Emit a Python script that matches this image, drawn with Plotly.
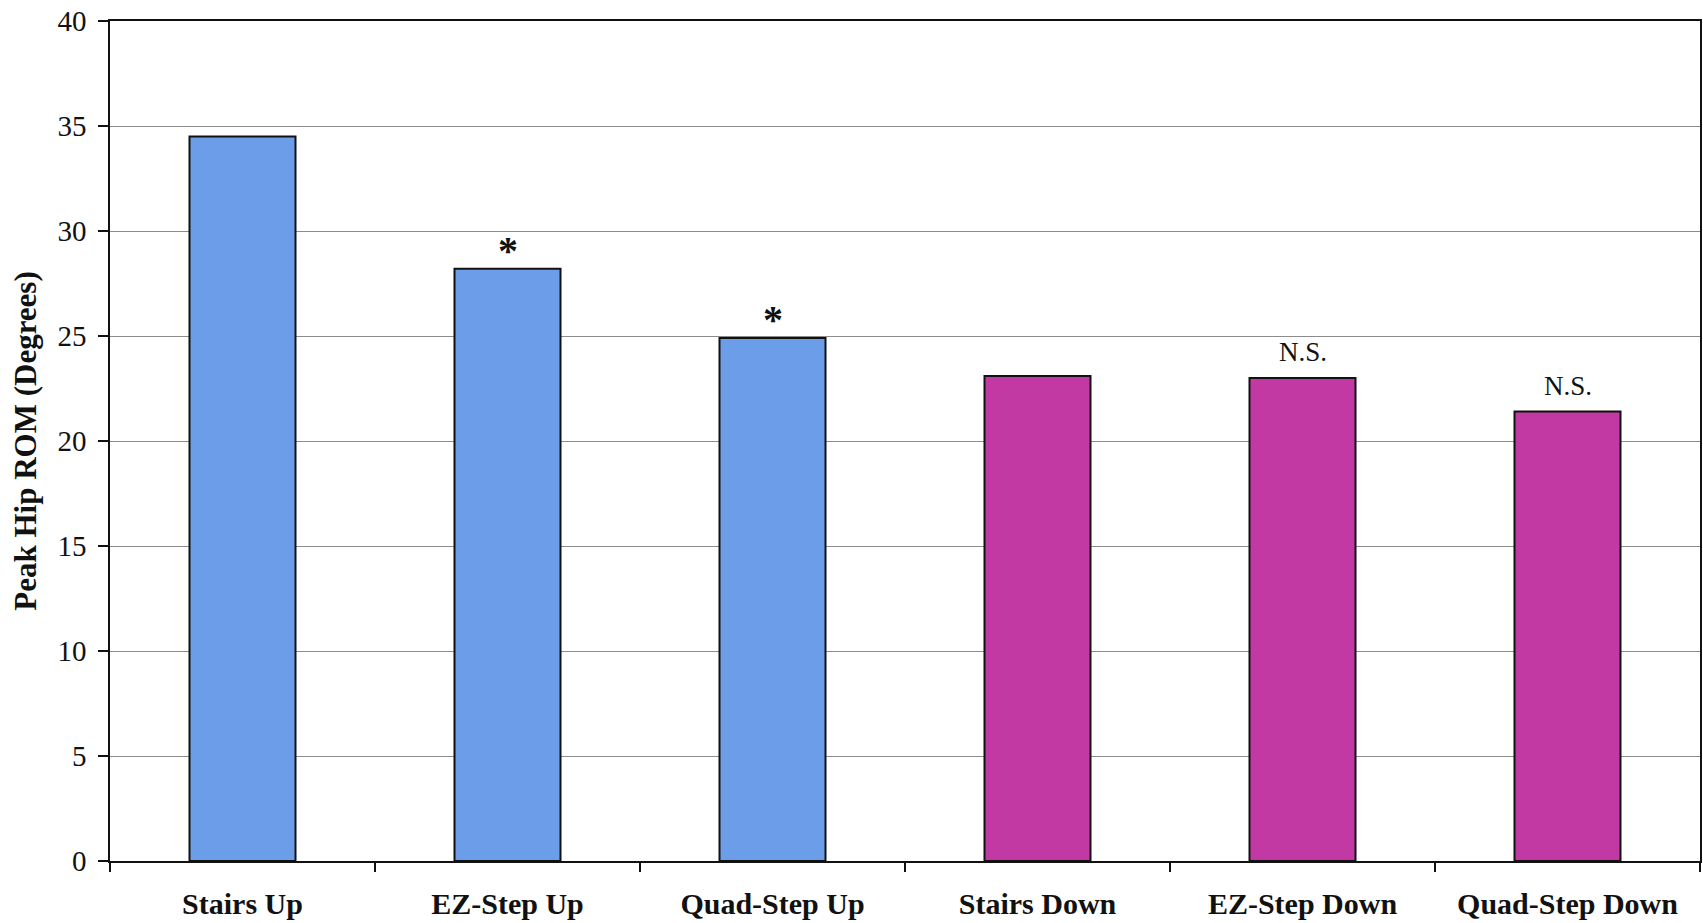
import plotly.graph_objects as go

# Peak hip range of motion for each task
tasks = ["Stairs Up", "EZ-Step Up", "Quad-Step Up",
         "Stairs Down", "EZ-Step Down", "Quad-Step Down"]
peak_rom = [34.5, 28.2, 24.9, 23.1, 23.0, 21.4]
bar_colors = ["#6c9de8", "#6c9de8", "#6c9de8",
              "#c239a4", "#c239a4", "#c239a4"]
sig_labels = ["", "*", "*", "", "N.S.", "N.S."]

y_ticks = [0, 5, 10, 15, 20, 25, 30, 35, 40]

serif = "Liberation Serif, Times New Roman, serif"

fig = go.Figure(
    go.Bar(
        x=tasks,
        y=peak_rom,
        width=0.4,
        marker=dict(color=bar_colors, line=dict(color="#111111", width=2)),
        hoverinfo="x+y",
    )
)

for task, val, lab in zip(tasks, peak_rom, sig_labels):
    if not lab:
        continue
    if lab == "*":
        fig.add_annotation(x=task, y=val, text="<b>*</b>", showarrow=False,
                           yanchor="bottom", yshift=-6,
                           font=dict(family=serif, size=40, color="#111111"))
    else:
        fig.add_annotation(x=task, y=val, text=lab, showarrow=False,
                           yanchor="bottom", yshift=9,
                           font=dict(family=serif, size=27, color="#111111"))

fig.update_layout(
    width=1703,
    height=923,
    margin=dict(l=110, r=1, t=21, b=62),
    paper_bgcolor="white",
    plot_bgcolor="white",
    showlegend=False,
    font=dict(family=serif, color="#111111"),
    xaxis=dict(
        type="category",
        showline=True,
        linecolor="#111111",
        linewidth=1.5,
        mirror=True,
        ticks="outside",
        tickson="boundaries",
        ticklen=9,
        tickcolor="#111111",
        tickwidth=1.5,
        showgrid=False,
        tickfont=dict(family=serif, size=30, color="#111111"),
        ticklabelstandoff=15,
        tickprefix="<b>",
        ticksuffix="</b>",
    ),
    yaxis=dict(
        range=[0, 40],
        tickvals=y_ticks,
        showline=True,
        linecolor="#111111",
        linewidth=1.5,
        mirror=True,
        ticks="outside",
        ticklen=10,
        tickcolor="#111111",
        tickwidth=1.5,
        showgrid=True,
        gridcolor="#8c8c8c",
        gridwidth=1,
        zeroline=False,
        ticklabelstandoff=6,
        tickfont=dict(family=serif, size=29, color="#111111"),
        title=dict(text="<b>Peak Hip ROM (Degrees)</b>",
                   font=dict(family=serif, size=31, color="#111111"),
                   standoff=12),
    ),
)

fig.write_html("out.html")
